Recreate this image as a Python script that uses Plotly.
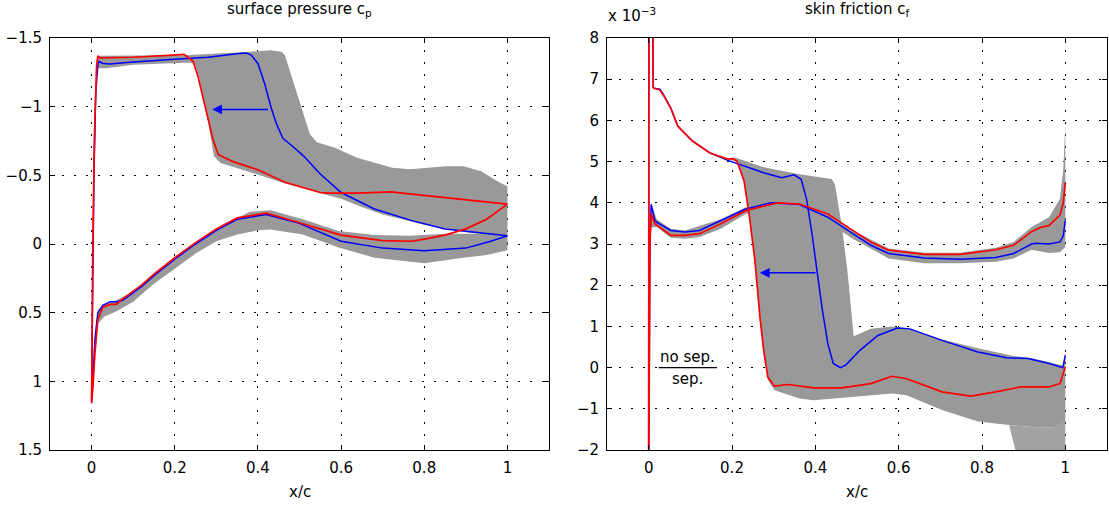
import plotly.graph_objects as go

# ---------------- surface pressure c_p ----------------
# mean solution (blue): lower surface TE -> LE, then upper surface LE -> TE
cp_blue_lo_x = [1.0, 0.96, 0.9, 0.8, 0.7, 0.6, 0.5, 0.42, 0.35, 0.3, 0.25, 0.2, 0.15, 0.12,
                0.075, 0.06, 0.045, 0.027, 0.015, 0.008, 0.003, 0.0]
cp_blue_lo = [-0.06, -0.02, 0.03, 0.05, 0.03, -0.02, -0.15, -0.215, -0.18, -0.10, 0.0, 0.11,
              0.23, 0.31, 0.41, 0.42, 0.42, 0.447, 0.5, 0.7, 1.0, 1.15]
cp_blue_up_x = [0.001, 0.003, 0.006, 0.01, 0.015, 0.018, 0.026, 0.043, 0.1, 0.2, 0.28, 0.35,
                0.372, 0.384, 0.4, 0.416, 0.432, 0.444, 0.46, 0.484, 0.51, 0.55, 0.6, 0.68,
                0.77, 0.85, 0.94, 1.0]
cp_blue_up = [0.8, 0.0, -0.6, -1.1, -1.3, -1.33, -1.316, -1.31, -1.325, -1.345, -1.36, -1.385,
              -1.39, -1.376, -1.315, -1.17, -0.99, -0.88, -0.77, -0.71, -0.64, -0.51, -0.375,
              -0.255, -0.17, -0.11, -0.078, -0.06]

# shifted-shock solution (red)
cp_red_lo_x = [1.0, 0.95, 0.9, 0.85, 0.8, 0.77, 0.7, 0.6, 0.5, 0.42, 0.35, 0.3, 0.25, 0.2,
               0.15, 0.12, 0.075, 0.06, 0.045, 0.027, 0.015, 0.008, 0.003, 0.0]
cp_red_lo = [-0.29, -0.18, -0.11, -0.065, -0.035, -0.02, -0.025, -0.065, -0.155, -0.225,
             -0.19, -0.11, -0.01, 0.10, 0.22, 0.30, 0.40, 0.44, 0.44, 0.46, 0.55, 0.8, 1.05, 1.16]
cp_red_up_x = [0.003, 0.007, 0.012, 0.015, 0.02, 0.05, 0.1, 0.195, 0.222, 0.232, 0.244,
               0.256, 0.276, 0.292, 0.305, 0.34, 0.4, 0.465, 0.55, 0.57, 0.64, 0.72, 0.81,
               0.9, 1.0]
cp_red_up = [0.0, -0.8, -1.3, -1.37, -1.355, -1.355, -1.36, -1.375, -1.38, -1.36, -1.33,
             -1.22, -0.975, -0.76, -0.65, -0.6, -0.54, -0.45, -0.375, -0.37, -0.37, -0.38,
             -0.35, -0.32, -0.29]

# envelope of the unsteady cycle, upper surface (outer edge, then inner edge back)
cp_env_up_top_x = [0.004, 0.012, 0.015, 0.2, 0.225, 0.38, 0.43, 0.457, 0.465, 0.482, 0.508,
                   0.525, 0.542, 0.585, 0.637, 0.723, 0.766, 0.852, 0.894, 0.937, 0.98, 1.0]
cp_env_up_top = [-0.5, -1.3, -1.37, -1.375, -1.375, -1.40, -1.41, -1.40, -1.375, -1.21,
                 -0.965, -0.80, -0.74, -0.70, -0.63, -0.555, -0.545, -0.567, -0.567, -0.53,
                 -0.45, -0.42]
cp_env_up_bot_x = [1.0, 0.9, 0.8, 0.7, 0.65, 0.6, 0.55, 0.465, 0.38, 0.31, 0.294, 0.28, 0.26,
                   0.25, 0.24, 0.225, 0.1, 0.036, 0.015, 0.012, 0.008]
cp_env_up_bot = [-0.05, -0.085, -0.14, -0.215, -0.27, -0.33, -0.37, -0.44, -0.525, -0.59,
                 -0.64, -0.9, -1.2, -1.3, -1.32, -1.32, -1.305, -1.28, -1.28, -1.25, -0.5]

# envelope, lower surface
cp_env_lo_top_x = [0.0, 0.008, 0.015, 0.03, 0.06, 0.1, 0.15, 0.2, 0.25, 0.3, 0.35, 0.38, 0.43,
                   0.508, 0.594, 0.68, 0.766, 0.85, 0.92, 1.0]
cp_env_lo_top = [1.1, 0.65, 0.48, 0.44, 0.41, 0.345, 0.225, 0.11, -0.005, -0.105, -0.185,
                 -0.235, -0.245, -0.18, -0.095, -0.065, -0.06, -0.075, -0.075, -0.07]
cp_env_lo_bot_x = [1.0, 0.95, 0.894, 0.8, 0.68, 0.594, 0.508, 0.43, 0.4, 0.35, 0.3, 0.25, 0.2,
                   0.15, 0.1, 0.06, 0.03, 0.015, 0.008, 0.0]
cp_env_lo_bot = [0.045, 0.08, 0.10, 0.14, 0.10, 0.025, -0.07, -0.105, -0.10, -0.07, -0.02,
                 0.07, 0.18, 0.29, 0.42, 0.49, 0.53, 0.58, 0.8, 1.18]

# ---------------- skin friction c_f (x 1e-3) ----------------
cf_blue_lo_x = [1.0, 0.995, 0.987, 0.961, 0.93, 0.919, 0.876, 0.833, 0.747, 0.662, 0.576,
                0.533, 0.49, 0.43, 0.362, 0.293, 0.233, 0.173, 0.122, 0.087, 0.053, 0.019,
                0.015, 0.006, 0.003, 0.0]
cf_blue_lo = [3.57, 3.2, 3.05, 3.0, 3.02, 3.0, 2.77, 2.67, 2.63, 2.66, 2.77, 2.97, 3.25, 3.65,
              3.96, 4.0, 3.85, 3.57, 3.33, 3.29, 3.33, 3.53, 3.57, 3.96, 3.0, -3.0]
cf_blue_up_x = [0.0005, 0.009, 0.011, 0.013, 0.027, 0.036, 0.053, 0.07, 0.105, 0.147, 0.19,
                0.276, 0.319, 0.349, 0.366, 0.379, 0.392, 0.404, 0.417, 0.43, 0.443, 0.46,
                0.473, 0.507, 0.55, 0.597, 0.627, 0.704, 0.79, 0.859, 0.91, 0.961, 0.994, 1.0]
cf_blue_up = [9.5, 9.5, 6.8, 6.78, 6.76, 6.62, 6.3, 5.86, 5.5, 5.21, 5.03, 4.73, 4.61, 4.68,
              4.57, 4.09, 3.25, 2.35, 1.39, 0.58, 0.1, 0.0, 0.06, 0.42, 0.78, 0.96, 0.94, 0.66,
              0.38, 0.24, 0.22, 0.1, 0.0, 0.3]

cf_red_lo_x = [1.0, 0.995, 0.987, 0.961, 0.94, 0.919, 0.876, 0.833, 0.747, 0.662, 0.576, 0.533,
               0.49, 0.43, 0.362, 0.31, 0.233, 0.173, 0.122, 0.087, 0.053, 0.019, 0.015, 0.006,
               0.003, 0.0]
cf_red_lo = [4.49, 4.0, 3.7, 3.45, 3.4, 3.3, 2.97, 2.86, 2.75, 2.75, 2.85, 3.05, 3.33, 3.73,
             3.97, 4.0, 3.81, 3.49, 3.25, 3.21, 3.21, 3.45, 3.49, 3.73, 3.0, -3.0]
cf_red_up_x = [0.0005, 0.009, 0.011, 0.013, 0.027, 0.036, 0.053, 0.07, 0.105, 0.147, 0.19,
               0.203, 0.212, 0.229, 0.242, 0.255, 0.267, 0.276, 0.286, 0.302, 0.336, 0.396,
               0.464, 0.533, 0.584, 0.619, 0.704, 0.773, 0.833, 0.893, 0.961, 0.987, 1.0]
cf_red_up = [9.5, 9.5, 6.8, 6.78, 6.74, 6.6, 6.3, 5.86, 5.5, 5.21, 5.06, 5.07, 5.01, 4.53, 3.65,
             2.6, 1.23, 0.42, -0.23, -0.45, -0.41, -0.49, -0.49, -0.39, -0.21, -0.27, -0.59,
             -0.69, -0.59, -0.47, -0.47, -0.39, 0.02]

# envelope, upper surface (separation region)
cf_env_up_top_x = [0.19, 0.207, 0.276, 0.362, 0.439, 0.447, 0.464, 0.477, 0.486, 0.492, 0.533,
                   0.584, 0.619, 0.704, 0.79, 0.876, 0.919, 0.96, 0.994, 1.0]
cf_env_up_top = [5.06, 5.1, 4.86, 4.69, 4.58, 4.45, 3.41, 2.35, 1.39, 0.76, 0.94, 1.0, 0.96,
                 0.68, 0.47, 0.28, 0.23, 0.14, 0.05, 0.35]
cf_env_up_bot_x = [1.0, 0.99, 0.97, 0.93, 0.87, 0.833, 0.79, 0.704, 0.619, 0.584, 0.533, 0.447,
                   0.396, 0.362, 0.302, 0.286, 0.276, 0.267, 0.255, 0.242, 0.229, 0.212]
cf_env_up_bot = [-1.3, -1.45, -1.45, -1.45, -1.4, -1.35, -1.31, -1.03, -0.67, -0.63, -0.67,
                 -0.75, -0.79, -0.75, -0.55, -0.3, 0.4, 1.2, 2.6, 3.65, 4.5, 5.0]
# trailing-edge fan of the envelope reaching below the axis
cf_fan_x = [0.865, 0.885, 1.0, 1.0, 0.97, 0.93, 0.87]
cf_fan = [-1.4, -2.2, -2.2, -1.3, -1.45, -1.45, -1.4]

# envelope, lower surface
cf_env_lo_top_x = [0.003, 0.006, 0.019, 0.053, 0.087, 0.173, 0.233, 0.31, 0.362, 0.43, 0.49,
                   0.576, 0.662, 0.747, 0.833, 0.876, 0.919, 0.961, 0.987, 0.995, 1.0]
cf_env_lo_top = [3.5, 4.0, 3.6, 3.37, 3.33, 3.6, 3.89, 4.04, 4.0, 3.73, 3.33, 2.89, 2.79, 2.79,
                 2.91, 3.05, 3.41, 3.65, 4.1, 4.8, 5.88]
cf_env_lo_bot_x = [1.0, 0.987, 0.961, 0.919, 0.876, 0.833, 0.747, 0.662, 0.576, 0.49, 0.43,
                   0.362, 0.293, 0.233, 0.173, 0.122, 0.087, 0.053, 0.019, 0.006]
cf_env_lo_bot = [2.93, 2.8, 2.78, 2.86, 2.65, 2.57, 2.53, 2.53, 2.65, 3.13, 3.53, 3.83, 3.87,
                 3.73, 3.37, 3.17, 3.13, 3.15, 3.41, 3.4]

# shock-shift arrows: (tail x, head x, level)
cp_arrow = (0.428, 0.29, -0.98)
cf_arrow = (0.404, 0.267, 2.3)

# separation marker line
sep_line_x = [0.024, 0.164]
sep_line_y = [0.0, 0.0]

GRAY = "#999999"
BLUE = "#0000ff"
RED = "#ff0000"
FONT = "DejaVu Sans"
TICK_SIZE = 15
TEXT_SIZE = 15
W, H = 1109, 508

fig = go.Figure()


def band(xs_a, ys_a, xs_b, ys_b, xa, ya, color=GRAY):
    fig.add_trace(go.Scatter(x=xs_a + xs_b, y=ys_a + ys_b, fill="toself", fillcolor=color,
                             mode="lines", line=dict(width=0, color=color),
                             xaxis=xa, yaxis=ya, hoverinfo="skip", showlegend=False))


def curve(xs, ys, color, xa, ya, width=1.5):
    fig.add_trace(go.Scatter(x=xs, y=ys, mode="lines", line=dict(color=color, width=width),
                             xaxis=xa, yaxis=ya, showlegend=False))


# left panel
band(cp_env_up_top_x, cp_env_up_top, cp_env_up_bot_x, cp_env_up_bot, "x", "y")
band(cp_env_lo_top_x, cp_env_lo_top, cp_env_lo_bot_x, cp_env_lo_bot, "x", "y")
curve(cp_blue_lo_x + cp_blue_up_x, cp_blue_lo + cp_blue_up, BLUE, "x", "y")
curve(cp_red_lo_x + cp_red_up_x, cp_red_lo + cp_red_up, RED, "x", "y", 1.7)

# right panel
band(cf_env_up_top_x, cf_env_up_top, cf_env_up_bot_x, cf_env_up_bot, "x2", "y2")
band(cf_fan_x, cf_fan, [], [], "x2", "y2", "#a3a3a3")
band(cf_env_lo_top_x, cf_env_lo_top, cf_env_lo_bot_x, cf_env_lo_bot, "x2", "y2")
curve(cf_blue_lo_x + cf_blue_up_x, cf_blue_lo + cf_blue_up, BLUE, "x2", "y2")
curve(cf_red_lo_x + cf_red_up_x, cf_red_lo + cf_red_up, RED, "x2", "y2", 1.7)
curve(sep_line_x, sep_line_y, "black", "x2", "y2", 1.3)

axis_style = dict(showline=True, linecolor="black", linewidth=1, mirror="allticks",
                  ticks="inside", ticklen=5, tickcolor="black", showgrid=True,
                  gridcolor="black", gridwidth=1, griddash="2px,10px", zeroline=False,
                  automargin=False,
                  tickfont=dict(family=FONT, size=TICK_SIZE, color="black"))

fig.update_layout(
    width=W, height=H, margin=dict(l=0, r=0, t=0, b=0, pad=0),
    paper_bgcolor="white", plot_bgcolor="white", showlegend=False,
    font=dict(family=FONT, size=TICK_SIZE, color="black"),
    xaxis=dict(domain=[50 / W, 549 / W], range=[-0.1, 1.1], tickvals=[0, 0.2, 0.4, 0.6, 0.8, 1],
               anchor="y", ticklabelstandoff=4, **axis_style),
    yaxis=dict(domain=[1 - 450 / H, 1 - 38 / H], range=[1.5, -1.5], dtick=0.5, anchor="x",
               ticklabelstandoff=4, **axis_style),
    xaxis2=dict(domain=[607 / W, 1107 / W], range=[-0.1, 1.1],
                tickvals=[0, 0.2, 0.4, 0.6, 0.8, 1], anchor="y2", ticklabelstandoff=4,
                **axis_style),
    yaxis2=dict(domain=[1 - 450 / H, 1 - 38 / H], range=[-2, 8], dtick=1, anchor="x2",
                ticklabelstandoff=4, **axis_style),
)

ann = []
# arrows
ann.append(dict(x=cp_arrow[1], y=cp_arrow[2], ax=cp_arrow[0], ay=cp_arrow[2], xref="x", yref="y",
                axref="x", ayref="y", showarrow=True, arrowhead=2, arrowsize=1.3,
                arrowwidth=1.5, arrowcolor=BLUE, text=""))
ann.append(dict(x=cf_arrow[1], y=cf_arrow[2], ax=cf_arrow[0], ay=cf_arrow[2], xref="x2",
                yref="y2", axref="x2", ayref="y2", showarrow=True, arrowhead=2, arrowsize=1.3,
                arrowwidth=1.5, arrowcolor=BLUE, text=""))
# separation labels
ann.append(dict(x=0.094, y=0.0, xref="x2", yref="y2", text="no sep.", showarrow=False,
                yanchor="bottom", yshift=0, font=dict(family=FONT, size=TICK_SIZE)))
ann.append(dict(x=0.094, y=0.0, xref="x2", yref="y2", text="sep.", showarrow=False,
                yanchor="top", yshift=0, font=dict(family=FONT, size=TICK_SIZE)))
# titles
ann.append(dict(x=300 / W, y=1 - 10 / H, xref="paper", yref="paper",
                text="surface pressure c<sub>p</sub>", showarrow=False, xanchor="center",
                yanchor="middle", font=dict(family=FONT, size=TEXT_SIZE)))
ann.append(dict(x=857 / W, y=1 - 10 / H, xref="paper", yref="paper",
                text="skin friction c<sub>f</sub>", showarrow=False, xanchor="center",
                yanchor="middle", font=dict(family=FONT, size=TEXT_SIZE)))
ann.append(dict(x=606 / W, y=1 - 15 / H, xref="paper", yref="paper", text="x 10<sup>−3</sup>",
                showarrow=False, xanchor="left", yanchor="middle",
                font=dict(family=FONT, size=TICK_SIZE)))
# axis labels
ann.append(dict(x=300 / W, y=1 - 492 / H, xref="paper", yref="paper", text="x/c",
                showarrow=False, xanchor="center", yanchor="middle",
                font=dict(family=FONT, size=TEXT_SIZE)))
ann.append(dict(x=857 / W, y=1 - 492 / H, xref="paper", yref="paper", text="x/c",
                showarrow=False, xanchor="center", yanchor="middle",
                font=dict(family=FONT, size=TEXT_SIZE)))
fig.update_layout(annotations=ann)

fig.write_html("out.html")
